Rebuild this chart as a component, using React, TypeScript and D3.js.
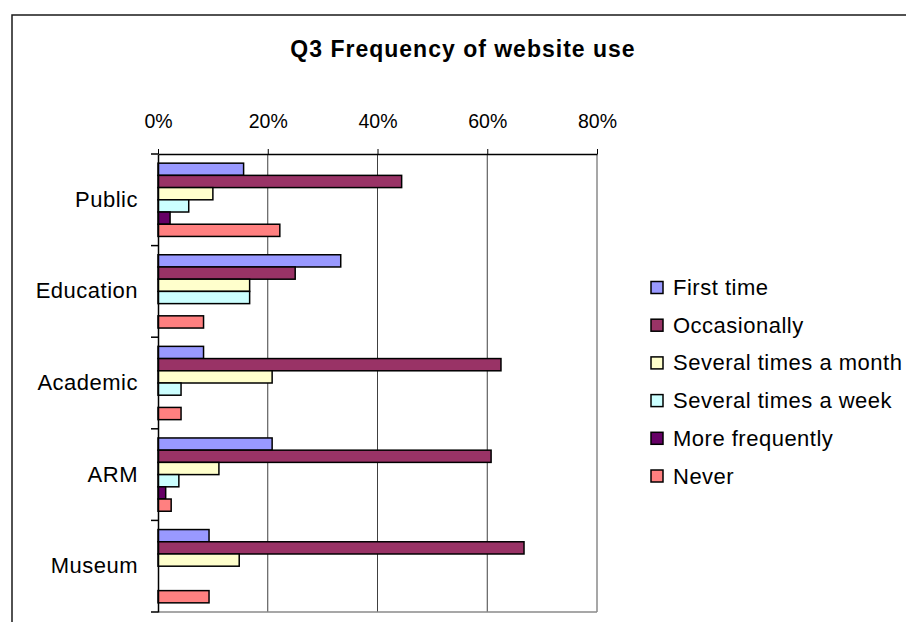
import React, { useRef, useEffect } from 'react'
import * as d3 from 'd3'

const categories = ['Public', 'Education', 'Academic', 'ARM', 'Museum']
const seriesNames = ['First time', 'Occasionally', 'Several times a month', 'Several times a week', 'More frequently', 'Never']
const seriesColors = ['#9999FF', '#993366', '#FFFFCC', '#CCFFFF', '#660066', '#FF8080']

// percent of respondents, one array per series (in category order)
const firstTime = [15.6, 33.3, 8.3, 20.8, 9.3]
const occasionally = [44.4, 25.0, 62.5, 60.7, 66.7]
const severalMonth = [10.0, 16.7, 20.8, 11.1, 14.8]
const severalWeek = [5.6, 16.7, 4.2, 3.8, 0]
const moreFrequently = [2.2, 0, 0, 1.4, 0]
const never = [22.2, 8.3, 4.2, 2.4, 9.3]

const tickValues = [0, 20, 40, 60, 80]

const FONT = '"Liberation Sans", Arial, sans-serif'

const App = () => {
  const svgRef = useRef<SVGSVGElement>(null)

  useEffect(() => {
    const width = 906
    const height = 622
    const seriesValues = [firstTime, occasionally, severalMonth, severalWeek, moreFrequently, never]

    const svg = d3.select(svgRef.current)
    svg.selectAll('*').remove()
    svg.attr('width', width).attr('height', height)

    // chart frame (runs off the right and bottom of the page)
    svg.append('rect')
      .attr('x', 12).attr('y', 15)
      .attr('width', 1000).attr('height', 1000)
      .attr('fill', 'white')
      .attr('stroke', '#1a1a1a')
      .attr('stroke-width', 1.5)

    svg.append('text')
      .attr('x', 463).attr('y', 57)
      .attr('text-anchor', 'middle')
      .attr('font-family', FONT)
      .attr('font-size', 23)
      .attr('font-weight', 'bold')
      .attr('letter-spacing', 1)
      .text('Q3 Frequency of website use')

    const x = d3.scaleLinear().domain([0, 80]).range([158, 597])
    const y = d3.scaleBand().domain(categories).range([154, 612])
    const ySub = d3.scaleBand().domain(seriesNames)
      .range([0, y.bandwidth()])
      .paddingInner(0)
      .paddingOuter(0.75)

    // gridlines + right/bottom plot border
    svg.append('g')
      .selectAll('line')
      .data(tickValues.slice(1))
      .join('line')
        .attr('x1', d => x(d)).attr('x2', d => x(d))
        .attr('y1', 154).attr('y2', 612)
        .attr('stroke', d => d === 80 ? '#8a8a8a' : '#404040')
        .attr('stroke-width', d => d === 80 ? 1.5 : 1)
    svg.append('line')
      .attr('x1', 158).attr('x2', 597)
      .attr('y1', 612).attr('y2', 612)
      .attr('stroke', '#8a8a8a').attr('stroke-width', 1.5)

    // bars
    svg.append('g')
      .selectAll('g')
      .data(seriesValues)
      .join('g')
        .attr('fill', (_, i) => seriesColors[i])
      .selectAll('rect')
      .data((vals, i) => vals.map((v, j) => ({ v, cat: categories[j], s: seriesNames[i] })).filter(d => d.v > 0))
      .join('rect')
        .attr('x', x(0))
        .attr('y', d => y(d.cat)! + ySub(d.s)!)
        .attr('width', d => x(d.v) - x(0))
        .attr('height', ySub.bandwidth())
        .attr('stroke', '#000')
        .attr('stroke-width', 1.5)

    // top value axis
    const xAxis = svg.append('g')
      .attr('transform', 'translate(0,154)')
      .call(d3.axisTop(x).tickValues(tickValues).tickFormat(d => `${d}%`).tickSize(5).tickSizeOuter(0).tickPadding(21))
    xAxis.select('.domain').attr('stroke', '#000').attr('stroke-width', 1.5)
    xAxis.selectAll('.tick line').attr('stroke', '#000')
    xAxis.selectAll('text')
      .attr('font-family', FONT)
      .attr('font-size', 19.5)
      .attr('fill', '#000')

    // left category axis
    const yAxis = svg.append('g')
      .attr('transform', 'translate(158,0)')
      .call(d3.axisLeft(y).tickSize(0).tickPadding(20))
    yAxis.select('.domain').attr('stroke', '#000').attr('stroke-width', 1.5)
    yAxis.selectAll('text')
      .attr('font-family', FONT)
      .attr('font-size', 22)
      .attr('letter-spacing', 0.5)
      .attr('fill', '#000')

    // category boundary ticks
    const bounds = categories.map(c => y(c)!).concat([612])
    svg.append('g')
      .selectAll('line')
      .data(bounds)
      .join('line')
        .attr('x1', 151).attr('x2', 158)
        .attr('y1', d => d).attr('y2', d => d)
        .attr('stroke', '#000').attr('stroke-width', 1.5)

    // legend
    const legend = svg.append('g')
      .selectAll('g')
      .data(seriesNames)
      .join('g')
        .attr('transform', (_, i) => `translate(651,${287.5 + i * 37.7})`)
    legend.append('rect')
      .attr('x', 0).attr('y', -6)
      .attr('width', 12).attr('height', 12)
      .attr('fill', (_, i) => seriesColors[i])
      .attr('stroke', '#000').attr('stroke-width', 1.5)
    legend.append('text')
      .attr('x', 22).attr('y', 7.5)
      .attr('font-family', FONT)
      .attr('font-size', 22)
      .attr('letter-spacing', 0.5)
      .text(d => d)
  }, [])

  return (
    <svg ref={svgRef} style={{ position: 'absolute', left: 0, top: 0 }} />
  )
}

export default App
